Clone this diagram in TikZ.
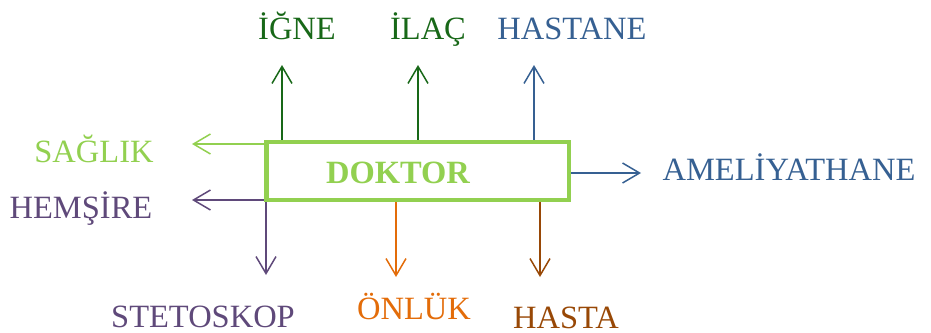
\documentclass[tikz,border=0pt]{standalone}
\usepackage{fontspec}
\setmainfont{Liberation Serif}
\usepackage{xcolor}
\usetikzlibrary{arrows.meta}
\definecolor{koyuyesil}{RGB}{24,104,24}
\definecolor{acikyesil}{HTML}{92D050}
\definecolor{mavi}{HTML}{366092}
\definecolor{mor}{HTML}{5F497A}
\definecolor{turuncu}{HTML}{E36C09}
\definecolor{kahve}{HTML}{984806}

\begin{document}
\begin{tikzpicture}[x=1pt,y=-1pt]
\tikzstyle{every node}+=[inner sep=0pt]
\tikzstyle{yazi}=[anchor=base,font=\fontsize{32.5}{36}\selectfont]
\tikzstyle{ok}=[line width=1.5pt,-{Straight Barb[length=17pt,width=20pt,line width=1.5pt]}]
\useasboundingbox (0,0) rectangle (931,332);
\node [draw=acikyesil,line width=4.5pt,minimum width=302.5pt,minimum height=58pt] (doktor) at (417.75,171) {};
\node [yazi,acikyesil,font=\fontsize{32.5}{36}\selectfont\bfseries] (baslik) at (398,183) {DOKTOR};
% yukari
\node [yazi,koyuyesil] (igne) at (297,39) {İĞNE};
\node [yazi,koyuyesil] (ilac) at (428,39) {İLAÇ};
\node [yazi,mavi] (hastane) at (572,39) {HASTANE};
\coordinate (igneucu) at (282,65);
\coordinate (ilacucu) at (418,65);
\coordinate (hastaneucu) at (534,65);
\draw [ok,koyuyesil] (igneucu |- doktor.north) -- (igneucu);
\draw [ok,koyuyesil] (ilacucu |- doktor.north) -- (ilacucu);
\draw [ok,mavi] (hastaneucu |- doktor.north) -- (hastaneucu);
% sol ve sag
\node [yazi,acikyesil] (saglik) at (94,162) {SAĞLIK};
\node [yazi,mor] (hemsire) at (81,218) {HEMŞİRE};
\node [yazi,mavi] (ameliyathane) at (789,180) {AMELİYATHANE};
\coordinate (saglikucu) at (192,144);
\coordinate (hemsireucu) at (192,200);
\coordinate (ameliyathaneucu) at (641,173);
\draw [ok,acikyesil] (saglikucu -| doktor.west) -- (saglikucu);
\draw [ok,mor] (hemsireucu -| doktor.west) -- (hemsireucu);
\draw [ok,mavi] (ameliyathaneucu -| doktor.east) -- (ameliyathaneucu);
% asagi
\node [yazi,mor] (stetoskop) at (203,327) {STETOSKOP};
\node [yazi,turuncu] (onluk) at (414,319) {ÖNLÜK};
\node [yazi,kahve] (hasta) at (566,328) {HASTA};
\coordinate (stetoskopucu) at (266,275);
\coordinate (onlukucu) at (396,277);
\coordinate (hastaucu) at (540,277);
\draw [ok,mor] (stetoskopucu |- doktor.south) -- (stetoskopucu);
\draw [ok,turuncu] (onlukucu |- doktor.south) -- (onlukucu);
\draw [ok,kahve] (hastaucu |- doktor.south) -- (hastaucu);
\end{tikzpicture}
\end{document}
